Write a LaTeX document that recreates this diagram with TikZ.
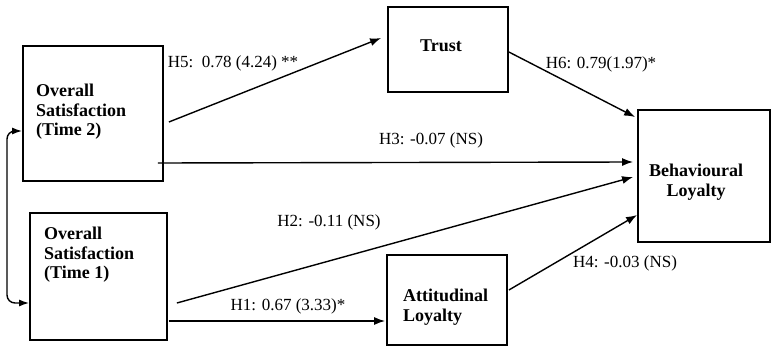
\documentclass[tikz,border=0pt]{standalone}
\usepackage{fontspec}
\setmainfont{Liberation Serif}
\usetikzlibrary{arrows.meta}
\tikzset{
  box/.style={draw, line width=1.8pt, inner sep=0pt},
  boxtext/.style={font=\fontsize{18}{19.5}\selectfont\bfseries, inner sep=0pt},
  path/.style={line width=1.4pt, -{Latex[length=11pt,width=8pt]}},
  coef/.style={font=\fontsize{17}{19}\selectfont, inner sep=0pt}
}
\begin{document}
\begin{tikzpicture}[x=1pt,y=1pt]
\useasboundingbox (0,0) rectangle (771,346);
% boxes
\node[box, minimum width=140, minimum height=135] (os2) at (93,232.5) {};
\node[box, minimum width=137, minimum height=127] (os1) at (98.5,69.5) {};
\node[box, minimum width=120, minimum height=85] (trust) at (448,296.5) {};
\node[box, minimum width=132, minimum height=132] (loyb) at (704,170) {};
\node[box, minimum width=120, minimum height=90] (loya) at (447,46) {};
% box texts
\node[boxtext, anchor=west, align=left] (os2t) at (36,234) {Overall\\Satisfaction\\(Time 2)};
\node[boxtext, anchor=west, align=left] (os1t) at (44,91) {Overall\\Satisfaction\\(Time 1)};
\node[boxtext] (trustt) at (441,300) {Trust};
\node[boxtext, align=center] (loybt) at (696,164) {Behavioural\\Loyalty};
\node[boxtext, anchor=west, align=left] (loyat) at (403,39) {Attitudinal\\Loyalty};
% paths
\draw[path] ([shift={(5,-8.5)}]os2.east) -- ([shift={(-6,11.5)}]trust.west);
\draw[path] ([shift={(-6,-49.5)}]os2.east) -- ([shift={(-4,14)}]loyb.west);
\draw[path] ([shift={(9,-26.5)}]os1.east) -- ([shift={(-4,-1)}]loyb.west);
\draw[path] ([shift={(1,-44.5)}]os1.east) -- ([shift={(-1,-21)}]loya.west);
\draw[path] ([shift={(0,-2.5)}]trust.east) -- ([shift={(-2,59)}]loyb.west);
\draw[path] ([shift={(1,10)}]loya.east) -- ([shift={(0,-39)}]loyb.west);
\draw[line width=1.4pt, rounded corners=8pt, {Latex[length=10pt,width=7pt]}-{Latex[length=10pt,width=7pt]}]
  ([yshift=-17.5]os2.west) -| (7,100) |- ([yshift=-26.5]os1.west);
% coefficients
\node[coef] (h5) at (233,283) {H5:\ \ 0.78 (4.24) **};
\node[coef] (h3) at (431,206) {H3: -0.07 (NS)};
\node[coef] (h2) at (329,124) {H2: -0.11 (NS)};
\node[coef] (h1) at (288,40) {H1: 0.67 (3.33)*};
\node[coef] (h6) at (601,282) {H6: 0.79(1.97)*};
\node[coef] (h4) at (625,83) {H4: -0.03 (NS)};
\end{tikzpicture}
\end{document}
